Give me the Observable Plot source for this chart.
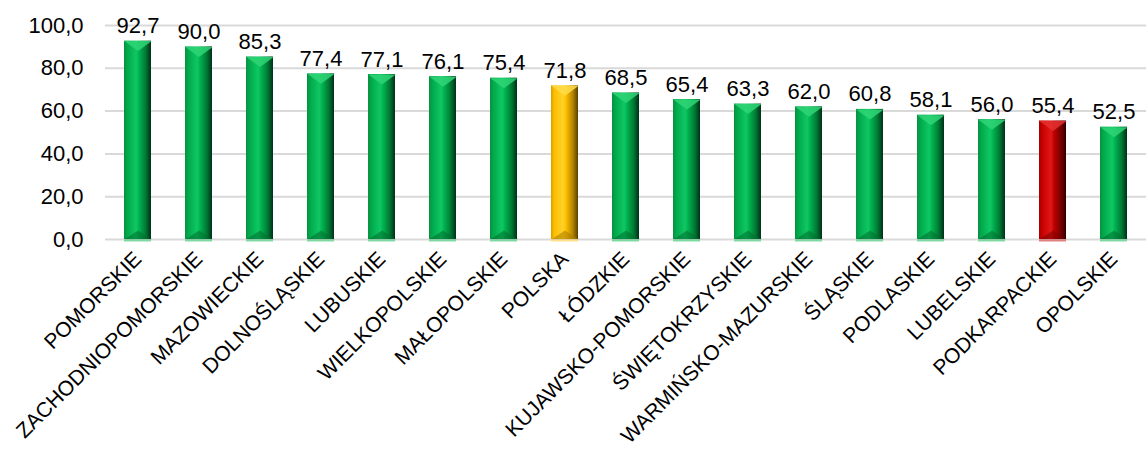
<!DOCTYPE html>
<html>
<head>
<meta charset="utf-8">
<script src="https://cdn.jsdelivr.net/npm/d3@7"></script>
<script src="https://cdn.jsdelivr.net/npm/@observablehq/plot@0.6"></script>
<style>
  html, body { margin: 0; padding: 0; background: #fff; }
  #chart { width: 1146px; height: 452px; }
</style>
</head>
<body>
<div id="chart"></div>
<script>
const regions = ["POMORSKIE","ZACHODNIOPOMORSKIE","MAZOWIECKIE","DOLNOŚLĄSKIE","LUBUSKIE","WIELKOPOLSKIE","MAŁOPOLSKIE","POLSKA","ŁÓDZKIE","KUJAWSKO-POMORSKIE","ŚWIĘTOKRZYSKIE","WARMIŃSKO-MAZURSKIE","ŚLĄSKIE","PODLASKIE","LUBELSKIE","PODKARPACKIE","OPOLSKIE"];
const values = [92.7, 90.0, 85.3, 77.4, 77.1, 76.1, 75.4, 71.8, 68.5, 65.4, 63.3, 62.0, 60.8, 58.1, 56.0, 55.4, 52.5];
const groups = ["g","g","g","g","g","g","g","y","g","g","g","g","g","g","g","r","g"];
const yTicks = [0, 20, 40, 60, 80, 100];

const data = regions.map((r, i) => ({region: r, value: values[i], group: groups[i], zero: 0}));
const fmt = v => v.toFixed(1).replace(".", ",");
const font = "Liberation Sans, Arial, sans-serif";

const W = 1146, ML = 105, MR = 0, PI = 0.55, PO = 0.275;
const step = (W - ML - MR) / (regions.length - PI + 2 * PO);
const bw = step * (1 - PI);

const topBevel = {draw(ctx) { ctx.moveTo(-bw / 2, 0); ctx.lineTo(bw / 2, 0); ctx.lineTo(0, 10); ctx.closePath(); }};
const botBevel = {draw(ctx) { ctx.moveTo(-bw / 2, 0); ctx.lineTo(bw / 2, 0); ctx.lineTo(0, -9); ctx.closePath(); }};

const lightFill = {g: "#2fd576", y: "#ffdc4a", r: "#e43030"};
const darkFill = {g: "#006b2e", y: "#a87a00", r: "#7a0000"};
const baseFill = {g: "#7fd9a3", y: "#ffe08a", r: "#e08080"};

const chart = Plot.plot({
  width: W,
  height: 452,
  marginLeft: ML,
  marginRight: MR,
  marginTop: 25,
  marginBottom: 213,
  style: {fontFamily: font, fontSize: "22px", color: "#000", background: "#fff"},
  x: {domain: regions, paddingInner: PI, paddingOuter: PO, label: null},
  y: {domain: [0, 100], label: null},
  marks: [
    Plot.gridY(yTicks, {stroke: "#d9d9d9", strokeOpacity: 1, strokeWidth: 2}),
    Plot.barY(data.filter(d => d.group === "g"), {x: "region", y: "value", fill: "url(#gGreen)"}),
    Plot.barY(data.filter(d => d.group === "y"), {x: "region", y: "value", fill: "url(#gYellow)"}),
    Plot.barY(data.filter(d => d.group === "r"), {x: "region", y: "value", fill: "url(#gRed)"}),
    Plot.dot(data, {x: "region", y: "value", symbol: topBevel, fill: d => lightFill[d.group], fillOpacity: 0.85, stroke: null, r: 5}),
    Plot.dot(data, {x: "region", y: "zero", symbol: botBevel, fill: d => darkFill[d.group], fillOpacity: 0.55, stroke: null, r: 5}),
    Plot.tickY(data, {x: "region", y: "zero", stroke: d => baseFill[d.group], strokeWidth: 2, dy: 1}),
    Plot.text(data, {x: "region", y: "value", text: d => fmt(d.value), lineAnchor: "bottom", dy: -8, fontSize: 22, fill: "#000"}),
    Plot.axisY(yTicks, {tickSize: 0, tickPadding: 22, tickFormat: fmt, fontSize: 22, label: null}),
    Plot.axisX({tickSize: 0, tickPadding: 16, tickRotate: -45, fontSize: 21, label: null})
  ],
  color: {type: "identity"}
});

const defs = d3.select(chart).insert("defs", ":first-child");
function grad(id, stops) {
  const g = defs.append("linearGradient").attr("id", id).attr("x1", "0").attr("x2", "1").attr("y1", "0").attr("y2", "0");
  stops.forEach(([o, c]) => g.append("stop").attr("offset", o).attr("stop-color", c));
}
grad("gGreen", [[0, "#0b8f3e"], [0.12, "#00a94c"], [0.45, "#10c763"], [0.55, "#00b452"], [0.8, "#007a33"], [1, "#00301a"]]);
grad("gYellow", [[0, "#d99c00"], [0.12, "#ffbf00"], [0.45, "#ffd22a"], [0.55, "#ffc000"], [0.8, "#b58600"], [1, "#5a4000"]]);
grad("gRed", [[0, "#a00000"], [0.12, "#c80000"], [0.45, "#e01818"], [0.55, "#c00000"], [0.8, "#7a0000"], [1, "#300000"]]);

document.getElementById("chart").appendChild(chart);
</script>
</body>
</html>
